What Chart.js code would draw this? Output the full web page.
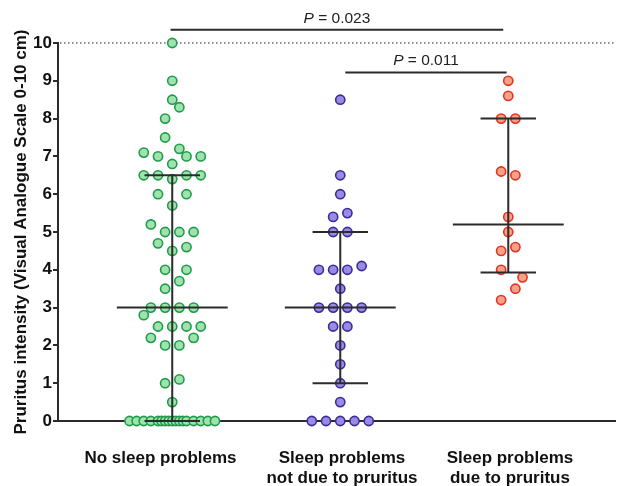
<!DOCTYPE html>
<html lang="en">
<head>
    <meta charset="UTF-8">
    <title>Pruritus intensity by sleep problems</title>
    <script src="https://cdn.jsdelivr.net/npm/chart.js"></script>
    <style>
        html, body { margin: 0; padding: 0; background: #fff; }
        #wrap { width: 622px; height: 486px; }
    </style>
</head>
<body>
    <div id="wrap"><canvas id="vasChart" width="622" height="486"></canvas></div>

    <script>
        // groups on the x axis (positions 1, 2, 3)
        const groupLabels = [
            ['No sleep problems'],
            ['Sleep problems', 'not due to pruritus'],
            ['Sleep problems', 'due to pruritus']
        ];
        const yTicks = [0, 1, 2, 3, 4, 5, 6, 7, 8, 9, 10];

        // VAS values, with the scatter column offset of each point
        const noSleepValues = [10, 9, 8.5, 8.3, 8, 7.5, 7.2, 7.1, 7, 7, 7, 6.8, 6.5, 6.5, 6.5, 6.5, 6.4, 6, 6, 5.7,
            5.2, 5, 5, 5, 4.7, 4.6, 4.5, 4, 4, 3.7, 3.5, 3, 3, 3, 3, 2.8, 2.5, 2.5, 2.5, 2.5, 2.2, 2.2, 2, 2,
            1.1, 1, 0.5, 0, 0, 0, 0, 0, 0, 0, 0, 0, 0, 0, 0, 0, 0, 0, 0, 0];
        const noSleepOffsets = [0, 0, 0, 1, -1, -1, 1, -4, -2, 2, 4, 0, -4, -2, 2, 4, 0, -2, 2, 0,
            -3, -1, 1, 3, -2, 2, 0, -1, 2, 1, -1, -3, -1, 1, 3, -4, -2, 0, 2, 4, -3, 3, -1, 1,
            1, -1, 0, -6, -5, -4, -3, -2, -1.5, -1, -0.5, 0, 0.5, 1, 1.5, 2, 3, 4, 5, 6];

        const notPruritusValues = [8.5, 6.5, 6, 5.5, 5.4, 5, 5, 4.1, 4, 4, 4, 3.5, 3, 3, 3, 3, 2.5, 2.5, 2, 1.5, 1, 0.5,
            0, 0, 0, 0, 0];
        const notPruritusOffsets = [0, 0, 0, 1, -1, -1, 1, 3, -3, -1, 1, 0, -3, -1, 1, 3, -1, 1, 0, 0, 0, 0,
            -4, -2, 0, 2, 4];

        const pruritusValues = [9, 8.6, 8, 8, 6.6, 6.5, 5.4, 5, 4.6, 4.5, 4, 3.8, 3.5, 3.2];
        const pruritusOffsets = [0, 0, -1, 1, -1, 1, 0, 0, 1, -1, -1, 2, 1, -1];

        // median and interquartile range per group
        const medians = [3, 3, 5.2];
        const lowerQuartiles = [0, 1, 3.93];
        const upperQuartiles = [6.5, 5, 8];

        // significance brackets
        const bracketStart = [0.99, 2.03];
        const bracketEnd = [2.97, 2.99];
        const bracketLevel = [10.35, 9.22];
        const pValues = ['0.023', '0.011'];

        const jitterStep = 0.0424;
        // where the group captions sit (the first one is a bit left of its column)
        const captionAt = [0.93, 2.01, 3.01];
        const inkColor = '#2b2b2b';
        const fontFamily = "'Liberation Sans', Arial, sans-serif";

        function toPoints(group, values, offsets) {
            return values.map((v, i) => ({ x: group + offsets[i] * jitterStep, y: v }));
        }

        function pointSet(label, data, fill, stroke) {
            return {
                label,
                data,
                backgroundColor: fill,
                borderColor: stroke,
                borderWidth: 1.6,
                pointRadius: 4.6,
                pointHoverRadius: 4.6,
                clip: false
            };
        }

        // dotted reference line at 10, median/IQR bars and the P value brackets
        const annotations = {
            id: 'annotations',
            beforeDatasetsDraw(chart) {
                const { ctx, chartArea, scales: { y } } = chart;
                const py = y.getPixelForValue(10);
                ctx.save();
                ctx.strokeStyle = '#6a6a6a';
                ctx.lineWidth = 1.5;
                ctx.setLineDash([1.5, 2.5]);
                ctx.beginPath();
                ctx.moveTo(chartArea.left + 2, py);
                ctx.lineTo(chartArea.right, py);
                ctx.stroke();
                ctx.restore();
            },
            afterDatasetsDraw(chart) {
                const { ctx, scales: { x, y } } = chart;
                ctx.save();
                ctx.strokeStyle = inkColor;
                ctx.lineWidth = 2;

                medians.forEach((m, i) => {
                    const g = i + 1;
                    const wide = 0.33, narrow = 0.165;
                    ctx.beginPath();
                    ctx.moveTo(x.getPixelForValue(g - wide), y.getPixelForValue(m));
                    ctx.lineTo(x.getPixelForValue(g + wide), y.getPixelForValue(m));
                    ctx.moveTo(x.getPixelForValue(g - narrow), y.getPixelForValue(lowerQuartiles[i]));
                    ctx.lineTo(x.getPixelForValue(g + narrow), y.getPixelForValue(lowerQuartiles[i]));
                    ctx.moveTo(x.getPixelForValue(g - narrow), y.getPixelForValue(upperQuartiles[i]));
                    ctx.lineTo(x.getPixelForValue(g + narrow), y.getPixelForValue(upperQuartiles[i]));
                    ctx.moveTo(x.getPixelForValue(g), y.getPixelForValue(lowerQuartiles[i]));
                    ctx.lineTo(x.getPixelForValue(g), y.getPixelForValue(upperQuartiles[i]));
                    ctx.stroke();
                });

                pValues.forEach((p, i) => {
                    const py = y.getPixelForValue(bracketLevel[i]);
                    const x0 = x.getPixelForValue(bracketStart[i]);
                    const x1 = x.getPixelForValue(bracketEnd[i]);
                    ctx.beginPath();
                    ctx.moveTo(x0, py);
                    ctx.lineTo(x1, py);
                    ctx.stroke();

                    const italic = 'italic 15.5px ' + fontFamily;
                    const normal = '15.5px ' + fontFamily;
                    const rest = ' = ' + p;
                    ctx.font = italic;
                    const wP = ctx.measureText('P').width;
                    ctx.font = normal;
                    const wRest = ctx.measureText(rest).width;
                    let tx = (x0 + x1) / 2 - (wP + wRest) / 2;
                    const ty = py - 7;
                    ctx.fillStyle = '#222';
                    ctx.textBaseline = 'alphabetic';
                    ctx.textAlign = 'left';
                    ctx.font = italic;
                    ctx.fillText('P', tx, ty);
                    ctx.font = normal;
                    ctx.fillText(rest, tx + wP, ty);
                });
                ctx.restore();
            }
        };

        Chart.defaults.font.family = fontFamily;
        Chart.defaults.color = '#111';

        new Chart(document.getElementById('vasChart'), {
            type: 'scatter',
            data: {
                datasets: [
                    pointSet('No sleep problems', toPoints(1, noSleepValues, noSleepOffsets), '#9fe2ad', '#1f9c4b'),
                    pointSet('Sleep problems not due to pruritus', toPoints(2, notPruritusValues, notPruritusOffsets), '#9a8be2', '#3a2c9c'),
                    pointSet('Sleep problems due to pruritus', toPoints(3, pruritusValues, pruritusOffsets), '#f8a08a', '#e3341f')
                ]
            },
            options: {
                responsive: false,
                animation: false,
                layout: { padding: { top: 43, right: 2, left: 0, bottom: 0 } },
                plugins: {
                    legend: { display: false },
                    tooltip: { enabled: false }
                },
                scales: {
                    x: {
                        type: 'linear',
                        min: 0.32,
                        max: 3.64,
                        afterBuildTicks: (scale) => {
                            scale.ticks = captionAt.map(v => ({ value: v }));
                        },
                        afterFit: (scale) => { scale.height = 65; },
                        grid: { display: false },
                        border: { display: true, color: inkColor, width: 2 },
                        ticks: {
                            autoSkip: false,
                            maxRotation: 0,
                            crossAlign: 'near',
                            padding: 19,
                            color: '#111',
                            font: { size: 17, weight: 'bold', lineHeight: 1.2 },
                            callback: (v, i) => groupLabels[i]
                        }
                    },
                    y: {
                        min: 0,
                        max: 10,
                        afterBuildTicks: (scale) => {
                            scale.ticks = yTicks.map(v => ({ value: v }));
                        },
                        afterFit: (scale) => { scale.width = 58; },
                        grid: {
                            drawOnChartArea: false,
                            drawTicks: true,
                            tickLength: 5,
                            color: inkColor,
                            lineWidth: 2
                        },
                        border: { display: true, color: inkColor, width: 2 },
                        ticks: {
                            padding: 1,
                            color: '#111',
                            font: { size: 17, weight: 'bold' }
                        },
                        title: {
                            display: true,
                            text: 'Pruritus intensity (Visual Analogue Scale 0-10 cm)',
                            color: '#111',
                            padding: { top: 11, bottom: 0 },
                            font: { size: 17, weight: 'bold' }
                        }
                    }
                }
            },
            plugins: [annotations]
        });
    </script>
</body>
</html>
